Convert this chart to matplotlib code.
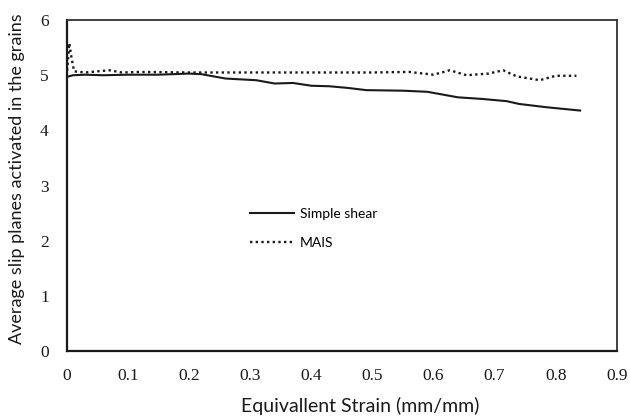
import matplotlib

matplotlib.use("Agg")
import matplotlib.pyplot as plt

# values
shear_strain = [0.0, 0.01, 0.03, 0.06, 0.10, 0.15, 0.20, 0.22, 0.26, 0.31, 0.34, 0.37,
                0.40, 0.43, 0.46, 0.49, 0.55, 0.59, 0.64, 0.68, 0.72, 0.74, 0.785, 0.84]
shear_planes = [4.97, 5.00, 5.01, 5.00, 5.01, 5.01, 5.03, 5.02, 4.94, 4.91, 4.85, 4.86,
                4.81, 4.80, 4.77, 4.73, 4.72, 4.70, 4.60, 4.57, 4.53, 4.48, 4.42, 4.36]

mais_strain = [0.0, 0.004, 0.008, 0.012, 0.03, 0.07, 0.09, 0.12, 0.20, 0.30, 0.40, 0.50,
               0.56, 0.60, 0.627, 0.654, 0.69, 0.714, 0.736, 0.774, 0.80, 0.834]
mais_planes = [4.98, 5.58, 5.30, 5.07, 5.05, 5.09, 5.05, 5.06, 5.05, 5.05, 5.05, 5.05,
               5.06, 5.01, 5.09, 5.00, 5.03, 5.09, 4.98, 4.91, 4.99, 4.99]

x_ticks = [0, 0.1, 0.2, 0.3, 0.4, 0.5, 0.6, 0.7, 0.8, 0.9]
y_ticks = [0, 1, 2, 3, 4, 5, 6]

fig = plt.figure(figsize=(6.3, 4.18), dpi=100, facecolor="white")
ax = fig.add_axes([0.106, 0.160, 0.873, 0.792])

ax.plot(shear_strain, shear_planes, color="#1a1a1a", lw=1.5, label="Simple shear")
ax.plot(mais_strain, mais_planes, color="#1a1a1a", lw=1.7, linestyle=(0, (1, 1.4)), label="MAIS")

ax.set_xlim(0, 0.9)
ax.set_ylim(0, 6)
ax.set_xticks(x_ticks)
ax.set_xticklabels([f"{t:g}" for t in x_ticks])
ax.set_yticks(y_ticks)
ax.tick_params(length=0, labelsize=12.5, colors="#1a1a1a")
ax.tick_params(axis="x", pad=12)
ax.tick_params(axis="y", pad=13)
for label in ax.get_xticklabels() + ax.get_yticklabels():
    label.set_fontfamily("Liberation Serif")

for side in ["left", "bottom"]:
    ax.spines[side].set_linewidth(1.6)
    ax.spines[side].set_color("#1a1a1a")
for side in ["top", "right"]:
    ax.spines[side].set_linewidth(1.3)
    ax.spines[side].set_color("#333333")

ax.set_xlabel("Equivallent Strain (mm/mm)", fontsize=14, fontfamily="Lato", color="#1a1a1a")
ax.xaxis.set_label_coords(0.533, -0.138)
ax.set_ylabel("Average slip planes activated in the grains", fontsize=13, fontfamily="Lato",
              color="#1a1a1a")
ax.yaxis.set_label_coords(-0.076, 0.52)

ax.legend(loc="upper left", bbox_to_anchor=(0.31, 0.47), frameon=False, handlelength=3.2,
          handletextpad=0.4, labelspacing=1.2, prop={"family": "Lato", "size": 10})

fig.savefig("out.png", dpi=100, facecolor="white")
